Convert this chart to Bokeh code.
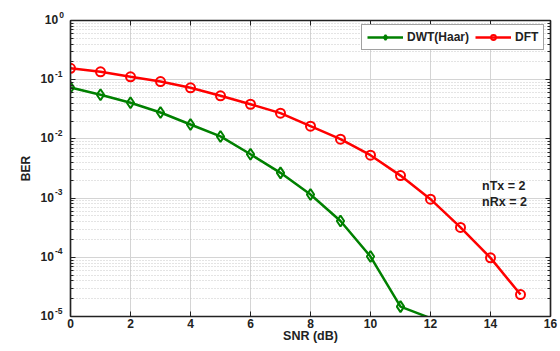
import math
from bokeh.plotting import figure
from bokeh.models import (FixedTicker, LinearAxis, LogAxis, CustomJSTickFormatter,
                          ColumnDataSource, Legend, LegendItem, CDSView, BooleanFilter)
from bokeh.embed import file_html
from bokeh.resources import INLINE
from bokeh.core.properties import value

# ---- data ----
snr_dwt = [0, 1, 2, 3, 4, 5, 6, 7, 8, 9, 10, 11, 12]
ber_dwt = [0.0738, 0.0556, 0.0407, 0.0279, 0.0175, 0.0110, 0.0055, 0.00267,
           0.00115, 0.00041, 0.000103, 1.47e-5, 9.4e-6]
snr_dft = [0, 1, 2, 3, 4, 5, 6, 7, 8, 9, 10, 11, 12, 13, 14, 15]
ber_dft = [0.156, 0.136, 0.112, 0.093, 0.073, 0.0535, 0.0385, 0.0272, 0.0164,
           0.0099, 0.0053, 0.0024, 0.00096, 0.00032, 0.0000978, 2.35e-5]
series_names = ["DWT(Haar)", "DFT"]
x_ticks = [0, 2, 4, 6, 8, 10, 12, 14, 16]
y_exps = [0, -1, -2, -3, -4, -5]
note_text = ["nTx = 2", "nRx = 2"]
note_x = [13.72, 13.72]
note_y = [1.58e-3, 8.5e-4]
x_label = "SNR (dB)"
y_label = "BER"

FONT = "Liberation Sans"
TXT = "#222222"
GREEN = "#008000"
RED = "#ff0000"

y_min, y_max = 10.0 ** min(y_exps), 10.0 ** max(y_exps)

p = figure(frame_width=480, frame_height=296, x_range=(0, 16), y_range=(y_min, y_max),
           y_axis_type="log", output_backend="svg", toolbar_location=None,
           min_border_left=70, min_border_right=8, min_border_top=20, min_border_bottom=4)
p.background_fill_color = "white"
p.border_fill_color = "white"
p.outline_line_color = TXT
p.outline_line_width = 1.2

major_y = [10.0 ** e for e in y_exps]
minor_y = [m * 10.0 ** e for e in range(min(y_exps), max(y_exps)) for m in range(2, 10)]
yticker = FixedTicker(ticks=major_y, minor_ticks=minor_y)
xticker = FixedTicker(ticks=x_ticks, minor_ticks=[])

blank = CustomJSTickFormatter(code="return ''")

def style_axis(ax, minor=True):
    ax.axis_line_color = TXT
    ax.axis_line_width = 1.5
    ax.major_tick_line_color = TXT
    ax.major_tick_in = 5
    ax.major_tick_out = 0
    if minor:
        ax.minor_tick_line_color = TXT
        ax.minor_tick_in = 3
        ax.minor_tick_out = 0
    else:
        ax.minor_tick_line_color = None

# bottom axis
xa = p.xaxis[0]
xa.ticker = xticker
style_axis(xa, minor=False)
xa.major_label_text_font = FONT
xa.major_label_text_font_style = "bold"
xa.major_label_text_font_size = "12px"
xa.major_label_text_color = TXT
xa.major_label_standoff = 2
xa.axis_label = x_label
xa.axis_label_text_font = FONT
xa.axis_label_text_font_style = "bold"
xa.axis_label_text_font_size = "12.5px"
xa.axis_label_text_color = TXT
xa.axis_label_standoff = -2

# left axis
ya = p.yaxis[0]
ya.ticker = yticker
style_axis(ya)
ya.formatter = blank
ya.major_label_text_font_size = "0px"
ya.major_label_standoff = 0
ya.axis_label = y_label
ya.axis_label_text_font = FONT
ya.axis_label_text_font_style = "bold"
ya.axis_label_text_font_size = "12px"
ya.axis_label_text_color = TXT
ya.axis_label_standoff = 38

# top and right axes (ticks only)
top = LinearAxis(ticker=xticker, formatter=blank, major_label_text_font_size="0px",
                 major_label_standoff=0)
style_axis(top, minor=False)
p.add_layout(top, "above")
right = LogAxis(ticker=yticker, formatter=blank, major_label_text_font_size="0px",
                major_label_standoff=0)
style_axis(right)
p.add_layout(right, "right")

# grids
p.xgrid[0].ticker = xticker
p.xgrid[0].grid_line_color = "#d4d4d4"
p.xgrid[0].grid_line_width = 1
p.ygrid[0].ticker = yticker
p.ygrid[0].grid_line_color = "#d4d4d4"
p.ygrid[0].grid_line_width = 1
p.ygrid[0].minor_grid_line_color = "#c8c8c8"
p.ygrid[0].minor_grid_line_dash = "1 2"
p.ygrid[0].minor_grid_line_width = 1

# series
src_dwt = ColumnDataSource(dict(x=snr_dwt, y=ber_dwt))
src_dft = ColumnDataSource(dict(x=snr_dft, y=ber_dft))
view_dwt = CDSView(filter=BooleanFilter([v >= y_min for v in ber_dwt]))
view_dft = CDSView(filter=BooleanFilter([v >= y_min for v in ber_dft]))

l1 = p.line("x", "y", source=src_dwt, line_color=GREEN, line_width=2.5)
s1 = p.scatter("x", "y", source=src_dwt, view=view_dwt, marker="diamond", size=11,
               line_color=GREEN, line_width=2, fill_color=None)
l2 = p.line("x", "y", source=src_dft, line_color=RED, line_width=2.5)
s2 = p.scatter("x", "y", source=src_dft, view=view_dft, marker="circle", size=9,
               line_color=RED, line_width=2, fill_color=None)

# y tick labels with superscript exponents
exp_str = [str(e) for e in y_exps]
exp_w = [4.3 * len(s) for s in exp_str]
lab_src = ColumnDataSource(dict(
    x=[0] * len(y_exps), y=major_y, base=["10"] * len(y_exps), exp=exp_str,
    base_off=[-7 - w - 1 for w in exp_w], exp_off=[-7 - w for w in exp_w]))
p.text(x="x", y="y", text="base", source=lab_src, x_offset="base_off", y_offset=-1,
       text_align="right", text_baseline="alphabetic", text_font=value(FONT),
       text_font_style="bold", text_font_size="12px", text_color=TXT, level="overlay")
p.text(x="x", y="y", text="exp", source=lab_src, x_offset="exp_off", y_offset=-6,
       text_align="left", text_baseline="alphabetic", text_font=value(FONT),
       text_font_style="bold", text_font_size="8.5px", text_color=TXT, level="overlay")

# annotation text
note_src = ColumnDataSource(dict(x=note_x, y=note_y, t=note_text))
p.text(x="x", y="y", text="t", source=note_src, text_align="left", text_baseline="middle",
       text_font=value(FONT), text_font_style="bold", text_font_size="12.5px",
       text_color=TXT)

# legend
legend = Legend(items=[LegendItem(label=series_names[0], renderers=[l1, s1]),
                       LegendItem(label=series_names[1], renderers=[l2, s2])],
                orientation="horizontal", location=(291, 266))
legend.glyph_width = 36
legend.glyph_height = 12
legend.label_height = 12
legend.label_standoff = 4
legend.spacing = 6
legend.padding = 5
legend.margin = 0
legend.label_text_font = FONT
legend.label_text_font_style = "bold"
legend.label_text_font_size = "12px"
legend.label_text_color = TXT
legend.label_text_baseline = "bottom"
legend.border_line_color = "#444444"
legend.border_line_width = 1.5
legend.background_fill_color = "white"
legend.background_fill_alpha = 1
p.add_layout(legend, "center")

open("out.html", "w").write(file_html(p, INLINE))
